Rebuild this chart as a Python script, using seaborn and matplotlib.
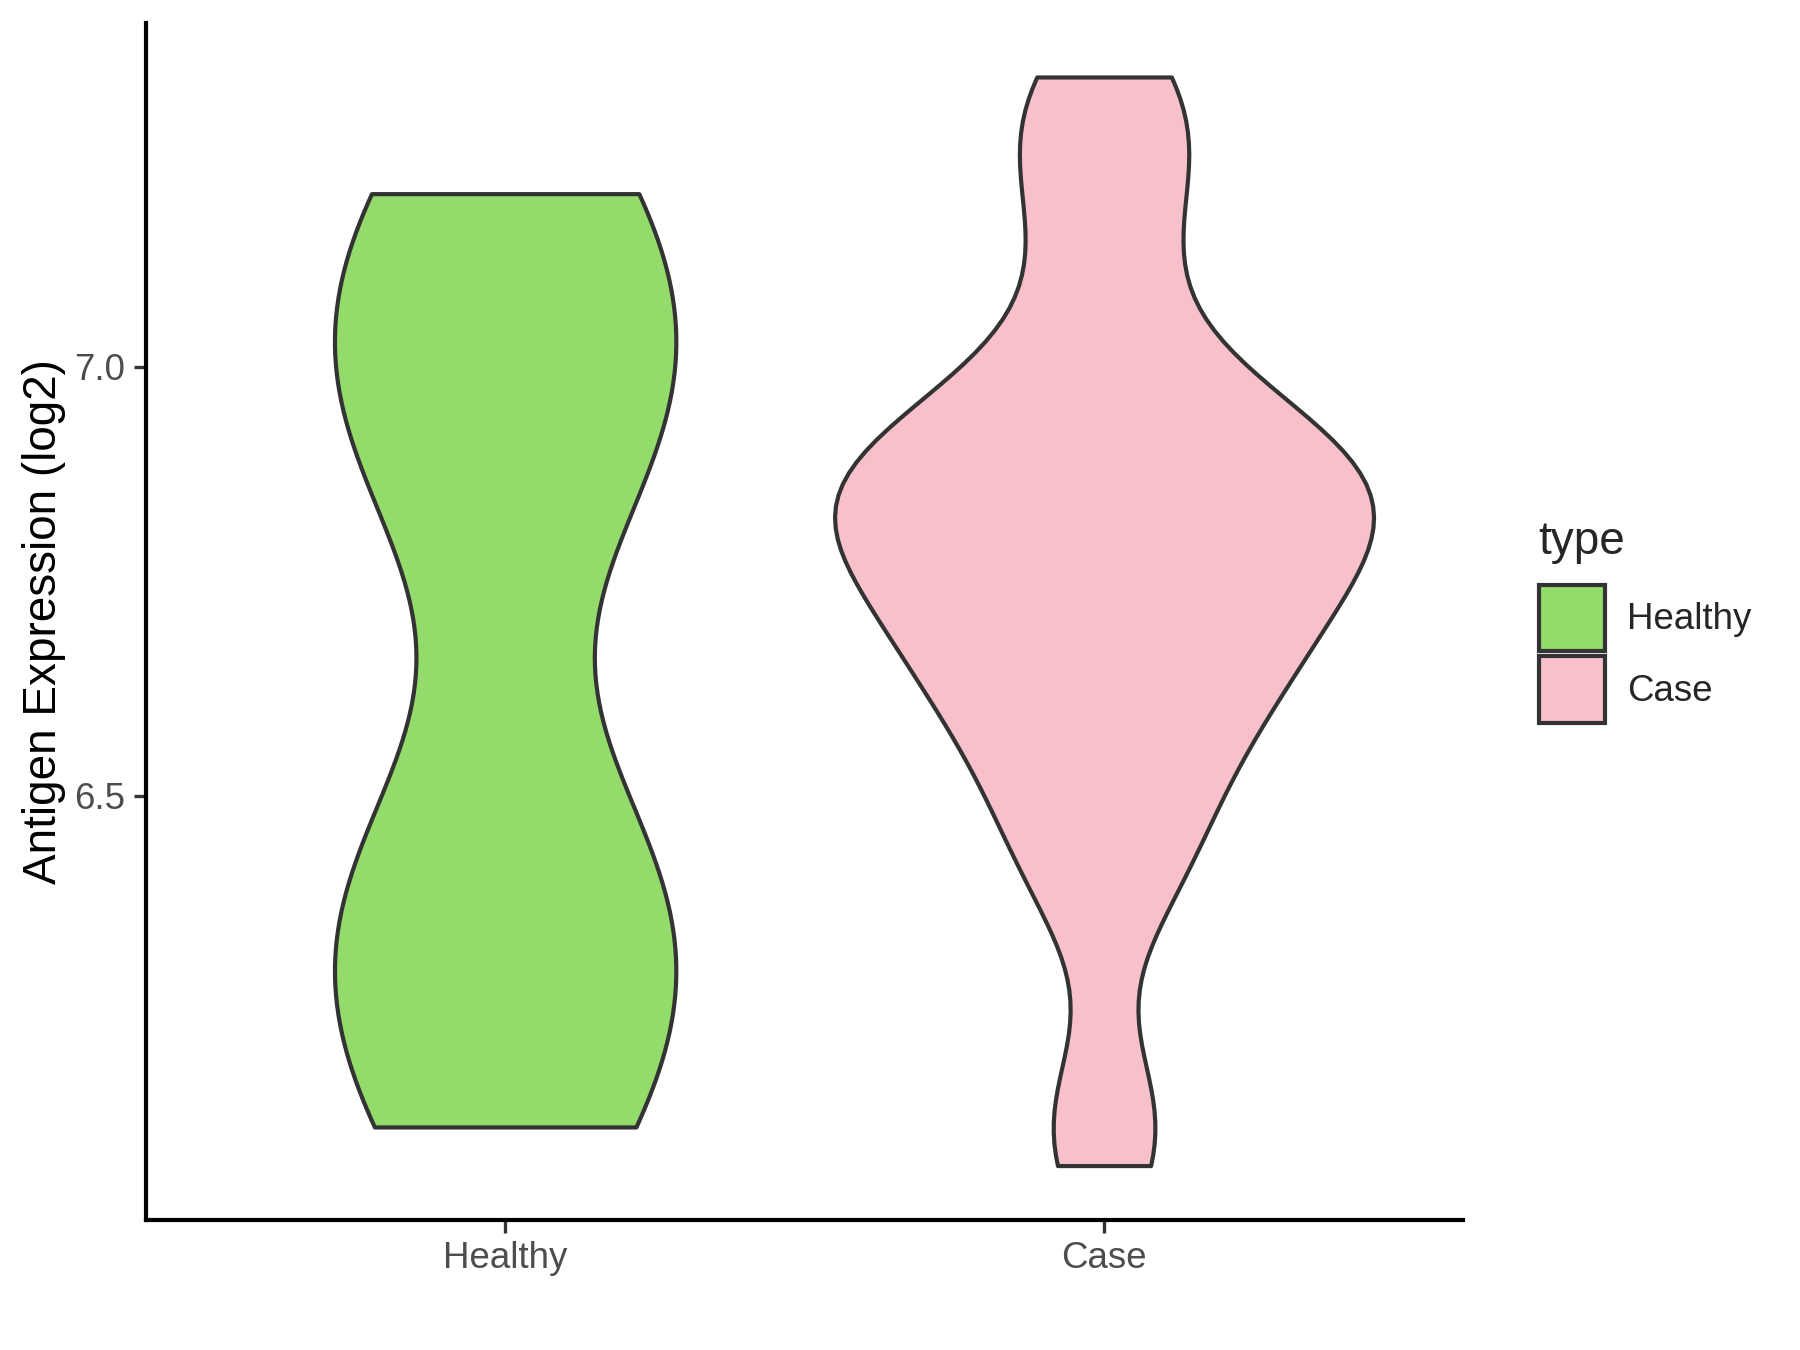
import matplotlib

matplotlib.use("Agg")
import matplotlib.pyplot as plt
import pandas as pd
import seaborn as sns
from matplotlib.patches import Patch

# values (log2 antigen expression)
categories = ["Healthy", "Case"]
healthy_values = [6.114, 6.298, 6.438, 6.878, 7.03, 7.202]
case_values = [6.069, 6.15,
               6.37, 6.44, 6.50, 6.55, 6.60, 6.63, 6.66, 6.69,
               6.72, 6.75, 6.77, 6.80, 6.815, 6.84, 6.85, 6.875,
               6.885, 6.915, 6.945, 6.96,
               7.04, 7.14, 7.225, 7.29, 7.338]
# kernel bandwidths (absolute, in log2 units)
bandwidths = [0.18, 0.09]
colors = ["#93DB6A", "#F7C0CB"]
y_ticks = [6.5, 7.0]

df = pd.DataFrame({
    "type": ["Healthy"] * len(healthy_values) + ["Case"] * len(case_values),
    "value": healthy_values + case_values,
})
palette = dict(zip(categories, colors))
# full widths of the violins as drawn in the reference (area scaling)
violin_widths = [0.57, 0.9]

sns.set_theme(style="ticks")
plt.rcParams["font.family"] = ["Liberation Sans", "DejaVu Sans"]

fig = plt.figure(figsize=(6, 4.5), dpi=300)
ax = fig.add_axes([0.081, 0.0963, 0.732, 0.887])

for cat, bw, w in zip(categories, bandwidths, violin_widths):
    sub = df[df["type"] == cat]
    sns.violinplot(
        data=sub, x="type", y="value", hue="type", order=categories,
        hue_order=categories, palette=palette, bw_method=bw / sub["value"].std(),
        cut=0, inner=None, width=w, linewidth=1.0, linecolor="#333333",
        saturation=1, legend=False, ax=ax,
    )

lo = min(df["value"])
hi = max(df["value"])
pad = (hi - lo) * 0.05
ax.set_ylim(lo - pad, hi + pad)
ax.set_xlim(-0.6, 1.6)
ax.set_yticks(y_ticks)
ax.set_yticklabels([f"{t:.1f}" for t in y_ticks])
ax.set_xlabel("")
ax.set_ylabel("Antigen Expression (log2)", fontsize=11, color="black", labelpad=2)
ax.tick_params(axis="both", labelsize=8.8, labelcolor="#4D4D4D", color="#333333",
               length=3, width=0.8, pad=2)
for side in ["top", "right"]:
    ax.spines[side].set_visible(False)
for side in ["left", "bottom"]:
    ax.spines[side].set_linewidth(1.0)
    ax.spines[side].set_color("black")

handles = [Patch(facecolor=c, edgecolor="#333333", linewidth=1.0) for c in colors]
leg = ax.legend(handles, categories, title="type", loc="center left",
                bbox_to_anchor=(1.046, 0.5), frameon=False, fontsize=8.8,
                title_fontsize=11, handlelength=1.82, handleheight=2.4,
                labelspacing=0.15, handletextpad=0.6, borderaxespad=0)
leg._legend_box.align = "left"
leg._legend_box.sep = 5  # gap between title and keys

fig.savefig("out.png", dpi=300)
